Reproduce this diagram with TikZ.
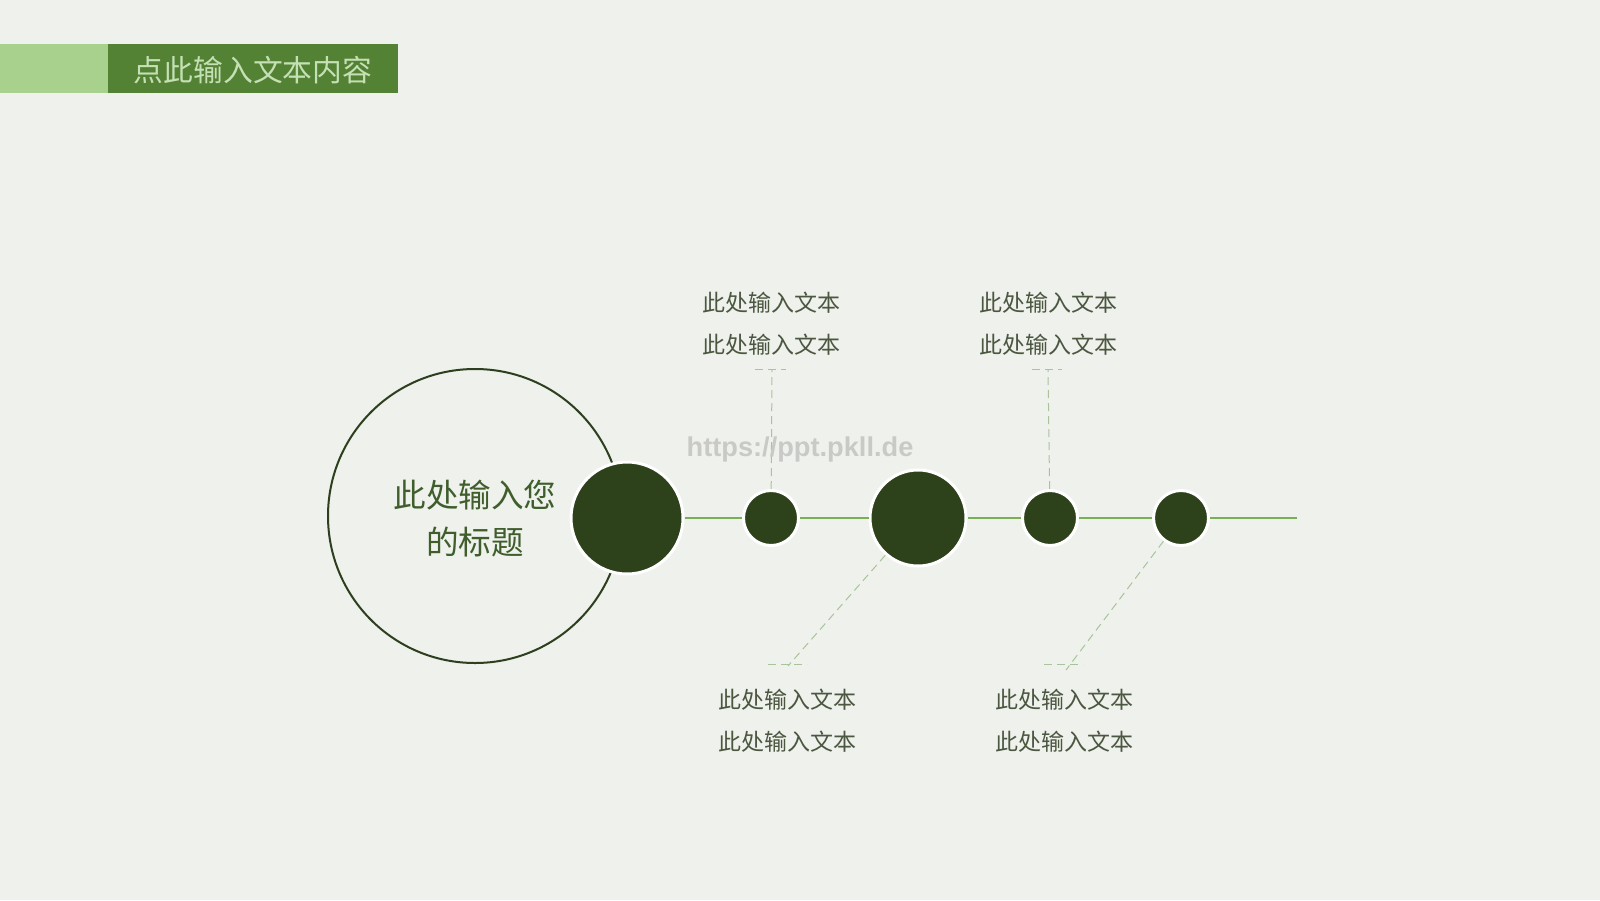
\documentclass[tikz,border=0pt]{standalone}
\usepackage{fontspec}
\setmainfont{Noto Sans CJK SC}
\newfontfamily\wmfont{Liberation Sans}
\definecolor{bgc}{HTML}{EFF1EC}
\definecolor{hdrlight}{HTML}{A9D18E}
\definecolor{hdrdark}{HTML}{548235}
\definecolor{hdrtext}{HTML}{C5E0B4}
\definecolor{dotc}{HTML}{2D411B}
\definecolor{ringc}{HTML}{2D3F1E}
\definecolor{linec}{HTML}{7AB055}
\definecolor{dashc}{HTML}{A9C49A}
\definecolor{txtc}{HTML}{4B5740}
\definecolor{titlec}{HTML}{3F5E2C}
\definecolor{wmc}{HTML}{C9CAC7}
\begin{document}
\begin{tikzpicture}[x=0.5pt,y=-0.5pt,
  dot/.style={circle, fill=dotc, draw=white, line width=1.5pt, inner sep=0pt},
  mainline/.style={draw=linec, line width=1pt},
  leader/.style={draw=dashc, line width=0.5pt, dash pattern=on 4pt off 2.5pt},
  smalltxt/.style={text=txtc, align=center, font=\fontsize{11.5pt}{21pt}\selectfont},
  titletxt/.style={text=titlec, align=center, font=\fontsize{16.3pt}{23.5pt}\selectfont}]
\useasboundingbox (0,0) rectangle (1600,900);
\fill[bgc] (0,0) rectangle (1600,900);
% header
\node[fill=hdrlight, minimum width=54pt, minimum height=24.5pt, inner sep=0pt, anchor=north west] (hl) at (0,44) {};
\node[fill=hdrdark, minimum width=145pt, minimum height=24.5pt, inner sep=0pt, anchor=north west] (hd) at (108,44) {};
\node[text=hdrtext, font=\fontsize{14.9pt}{18pt}\selectfont, inner sep=0pt] (ht) at (253,70) {点此输入文本内容};
% big ring
\node[circle, draw=ringc, line width=1pt, minimum size=147pt, inner sep=0pt] (ring) at (475,516) {};
\node[titletxt] (title) at (475,519) {此处输入您\\的标题};
% coordinates
\coordinate (lend) at (1297,518);
\coordinate (u2) at (772,369);
\coordinate (u2l) at (755,369);
\coordinate (u2r) at (786,369);
\coordinate (u4) at (1048,369);
\coordinate (u4l) at (1032,369);
\coordinate (u4r) at (1062,369);
\coordinate (l3) at (788,666);
\coordinate (l3l) at (768,664);
\coordinate (l3r) at (807,664);
\coordinate (l5) at (1066,670);
\coordinate (l5l) at (1044,664);
\coordinate (l5r) at (1083,664);
% dots
\node[dot, minimum size=56pt] (c1) at (627,518) {};
\node[dot, minimum size=27.5pt] (c2) at (771,518) {};
\node[dot, minimum size=48pt] (c3) at (918,518) {};
\node[dot, minimum size=27.5pt] (c4) at (1050,518) {};
\node[dot, minimum size=27.5pt] (c5) at (1181,518) {};
% main line
\draw[mainline] (c1) -- (c2);
\draw[mainline] (c2) -- (c3);
\draw[mainline] (c3) -- (c4);
\draw[mainline] (c4) -- (c5);
\draw[mainline] (c5) -- (lend);
% leaders
\draw[leader] (c2) -- (u2);
\draw[leader] (u2l) -- (u2r);
\draw[leader] (c4) -- (u4);
\draw[leader] (u4l) -- (u4r);
\draw[leader] (c3) -- (l3);
\draw[leader] (l3l) -- (l3r);
\draw[leader] (c5) -- (l5);
\draw[leader] (l5l) -- (l5r);
% texts
\node[smalltxt] (t2) at (771,324) {此处输入文本\\此处输入文本};
\node[smalltxt] (t4) at (1048,324) {此处输入文本\\此处输入文本};
\node[smalltxt] (t3) at (787,721) {此处输入文本\\此处输入文本};
\node[smalltxt] (t5) at (1064,721) {此处输入文本\\此处输入文本};
% watermark
\node[text=wmc, font=\wmfont\bfseries\fontsize{13.6pt}{16pt}\selectfont] (wm) at (800,449) {https://ppt.pkll.de};
\end{tikzpicture}
\end{document}
